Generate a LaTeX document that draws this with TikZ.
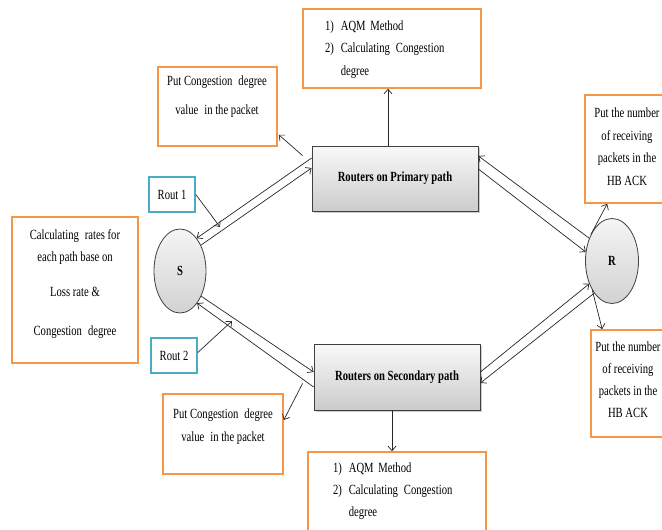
\documentclass[tikz,border=0pt]{standalone}
\usepackage{fontspec}
\setmainfont{Liberation Serif}[FakeStretch=0.76]
\usetikzlibrary{arrows.meta,calc,shadows,shapes.geometric}
\definecolor{obord}{HTML}{F79646}
\definecolor{bbord}{HTML}{4BACC6}
\definecolor{edgec}{HTML}{404040}
\newcommand{\gp}{\hspace{6pt}}
\begin{document}
\begin{tikzpicture}[x=1pt,y=-1pt,
 obox/.style={draw=obord,line width=1.6pt,fill=white,inner sep=0pt},
 bbox/.style={draw=bbord,line width=1.6pt,fill=white,inner sep=0pt,minimum width=46pt,minimum height=35pt,font=\fontsize{14}{16}\selectfont},
 txt/.style={inner sep=0pt,align=center,font=\fontsize{14}{22}\selectfont},
 router/.style={draw=edgec,line width=0.8pt,top color=gray!5,bottom color=gray!40,drop shadow={shadow xshift=2pt,shadow yshift=-2pt,opacity=0.4},minimum width=166pt,minimum height=65pt,inner sep=0pt,font=\bfseries\fontsize{14}{16}\selectfont},
 endpt/.style={ellipse,draw=edgec,line width=0.8pt,top color=gray!8,bottom color=gray!35,minimum width=52pt,minimum height=84pt,inner sep=0pt,font=\bfseries\fontsize{14}{16}\selectfont},
 arr/.style={draw=black!85,line width=0.7pt,-{Straight Barb[length=4.5pt,width=8pt]}}
]
\useasboundingbox (0,0) rectangle (662,530);
\clip (0,0) rectangle (662,530);

% orange boxes
\node[obox,minimum width=178pt,minimum height=79pt] (aqmT) at (392,48.5) {};
\node[txt,align=left,text width=134pt,font=\fontsize{14}{22.5}\selectfont] (aqmTt) at (392,49.5)
  {1)\hspace{7pt}AQM Method\\2)\hspace{7pt}Calculating\gp Congestion\\\phantom{2)\hspace{7pt}}degree};
\node[obox,minimum width=119pt,minimum height=79pt] (pcdT) at (217.5,106.5) {};
\node[txt,font=\fontsize{14}{29}\selectfont] (pcdTt) at (217,96.5) {Put Congestion\gp degree\\value\gp in the packet};
\node[obox,minimum width=126pt,minimum height=146pt] (left) at (75,290) {};
\node[txt] (leftt) at (75,284) {Calculating\gp rates for\\each path base on\\[13pt]Loss rate \&\\[17pt]Congestion\gp degree};
\node[obox,minimum width=120pt,minimum height=80pt] (pcdB) at (223,434) {};
\node[txt,font=\fontsize{14}{23}\selectfont] (pcdBt) at (223,426.5) {Put Congestion\gp degree\\value\gp in the packet};
\node[obox,minimum width=178pt,minimum height=100pt] (aqmB) at (397,502) {};
\node[txt,align=left,text width=134pt,font=\fontsize{14}{22}\selectfont] (aqmBt) at (400,491)
  {1)\hspace{7pt}AQM Method\\2)\hspace{7pt}Calculating\gp Congestion\\\phantom{2)\hspace{7pt}}degree};
\node[obox,minimum width=90pt,minimum height=108pt] (trB) at (630,149) {};
\node[txt,font=\fontsize{14}{22.5}\selectfont] (trBt) at (627,146.5) {Put the number\\of receiving\\packets in the\\HB ACK};
\node[obox,minimum width=90pt,minimum height=107pt] (brB) at (636,383.5) {};
\node[txt,font=\fontsize{14}{22}\selectfont] (brBt) at (628,380) {Put the number\\of receiving\\packets in the\\HB ACK};

% blue boxes
\node[bbox] (rout1) at (172,194.5) {Rout 1};
\node[bbox] (rout2) at (174,355.5) {Rout 2};

% routers
\node[router] (prim) at (395,178.5) {Routers on Primary path};
\node[router,minimum height=66pt] (sec) at (397,377) {Routers on Secondary path};

% end points
\node[endpt] (S) at (180,271) {S};
\node[endpt,minimum width=53pt,minimum height=85pt] (R) at (612,261) {R};

% connectors
\draw[arr] ($(prim.north)+(-7,0)$) -- ($(aqmT.south)+(-4,0)$);
\draw[arr] ($(prim.north west)+(-9,10)$) -- ($(pcdT.south east)+(1,-12)$);
\coordinate (r1tip) at (220,227);
\draw[arr] (rout1.east) -- (r1tip);
\draw[arr] ($(prim.west)+(0,-20.5)$) -- (S.63);
\draw[arr] (S.51) -- ($(prim.west)+(0,-10.5)$);
\draw[arr] (S.-50) -- ($(sec.west)+(0,-5)$);
\draw[arr] ($(sec.west)+(0,10)$) -- (S.-62);
\coordinate (r2tip) at (232,321);
\draw[arr] ($(rout2.east)+(0,-3)$) -- (r2tip);
\draw[arr] ($(sec.south west)+(-11,-27)$) -- ($(pcdB.east)+(0,-14)$);
\draw[arr] ($(sec.south)+(-5,0)$) -- ($(aqmB.north)+(-5,0)$);
\draw[arr] (R.135) -- ($(prim.east)+(0,-22.5)$);
\draw[arr] ($(prim.east)+(0,-9.5)$) -- (R.161);
\draw[arr] (R.128) -- ($(trB.south west)+(23,0)$);
\draw[arr] ($(sec.east)+(0,-5)$) -- (R.225);
\draw[arr] (R.241) -- ($(sec.east)+(0,6)$);
\draw[arr] (R.236) -- ($(brB.north west)+(12,0)$);
\end{tikzpicture}
\end{document}
